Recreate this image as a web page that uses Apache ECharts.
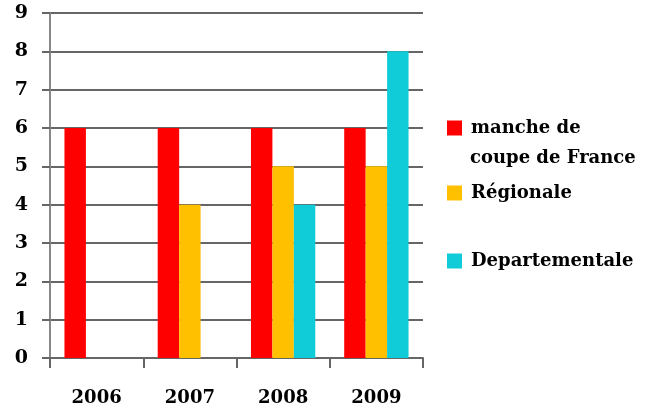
<!DOCTYPE html>
<html lang="fr">
<head>
<meta charset="UTF-8">
<title>Manches</title>
<style>
html, body { margin: 0; padding: 0; background: #fff; }
#main { width: 655px; height: 412px; }
</style>
</head>
<body>
<div id="main"></div>
<script src="https://cdn.jsdelivr.net/npm/echarts@6/dist/echarts.min.js"></script>
<script>
var years = ['2006', '2007', '2008', '2009'];
var seriesNames = ['manche de coupe de France', 'Régionale', 'Departementale'];
var coupeFrance = [6, 6, 6, 6];
var regionale = [null, 4, 5, 5];
var departementale = [null, null, 4, 8];
var yTicks = [0, 1, 2, 3, 4, 5, 6, 7, 8, 9];

var font = 'DejaVu Serif';
var chart = echarts.init(document.getElementById('main'));

// the first legend entry wraps: the square sits on line one, line two is a title
function legendAt(name, top, label) {
    return {
        data: [name],
        left: 442, top: top,
        itemWidth: 15, itemHeight: 15,
        icon: 'rect',
        formatter: function () { return label || name; },
        textStyle: { fontFamily: font, fontWeight: 'bold', fontSize: 18, color: '#000', lineHeight: 30, padding: [0, 0, 0, 4] }
    };
}

var option = {
    animation: false,
    title: {
        text: 'coupe de France',
        left: 470, top: 143, padding: 0,
        textStyle: { fontFamily: font, fontWeight: 'bold', fontSize: 18, color: '#000', lineHeight: 30 }
    },
    legend: [
        legendAt(seriesNames[0], 108, 'manche de'),
        legendAt(seriesNames[1], 173),
        legendAt(seriesNames[2], 241)
    ],
    grid: { left: 50, right: 232, top: 13, bottom: 54 },
    xAxis: {
        type: 'category',
        data: years,
        axisLine: { lineStyle: { color: '#666', width: 2 } },
        axisTick: { show: true, length: 10, lineStyle: { color: '#666', width: 2 } },
        axisLabel: { margin: 31, fontFamily: font, fontWeight: 'bold', fontSize: 18, color: '#000' }
    },
    yAxis: {
        type: 'value',
        min: 0, max: 9, interval: 1,
        axisLine: { show: true, lineStyle: { color: '#888', width: 2 } },
        axisTick: { show: true, length: 8, lineStyle: { color: '#666', width: 2 } },
        splitLine: { lineStyle: { color: '#666', width: 2 } },
        axisLabel: {
            margin: 22, fontFamily: font, fontWeight: 'bold', fontSize: 19, color: '#000',
            formatter: function (v) { return yTicks.indexOf(v) >= 0 ? String(v) : ''; }
        }
    },
    series: [
        { name: seriesNames[0], type: 'bar', data: coupeFrance, itemStyle: { color: '#FF0000' }, barGap: '0%', barCategoryGap: '31%' },
        { name: seriesNames[1], type: 'bar', data: regionale, itemStyle: { color: '#FFC000' } },
        { name: seriesNames[2], type: 'bar', data: departementale, itemStyle: { color: '#10CCD8' } }
    ]
};
chart.setOption(option);
</script>
</body>
</html>
